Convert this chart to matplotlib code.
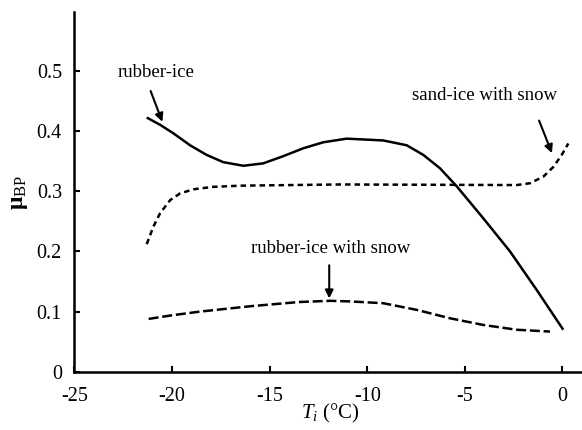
import matplotlib
matplotlib.use("Agg")
import matplotlib.pyplot as plt

plt.rcParams['font.family'] = ['Liberation Serif', 'DejaVu Serif']
plt.rcParams['mathtext.fontset'] = 'custom'
plt.rcParams['mathtext.rm'] = 'Liberation Serif'
plt.rcParams['mathtext.it'] = 'Liberation Serif:italic'
plt.rcParams['mathtext.bf'] = 'Liberation Serif:bold'

# rubber-ice (solid)
t_ri = [-21.3, -20.62, -19.94, -19.08, -18.23, -17.38, -16.35, -15.33, -14.3, -13.28, -12.25,
        -11.05, -9.18, -7.98, -7.13, -6.28, -5.42, -4.06, -2.69, -1.32, 0.04]
mu_ri = [0.422, 0.410, 0.396, 0.376, 0.360, 0.348, 0.342, 0.346, 0.358, 0.371, 0.381,
         0.387, 0.384, 0.376, 0.360, 0.338, 0.308, 0.255, 0.200, 0.136, 0.070]

# sand-ice with snow (short dashes)
t_si = [-21.3, -20.96, -20.62, -20.1, -19.6, -18.9, -17.9, -16.5, -11.4, -2.35, -1.67, -0.98,
        -0.47, -0.04, 0.30]
mu_si = [0.212, 0.241, 0.263, 0.285, 0.296, 0.303, 0.307, 0.309, 0.311, 0.310, 0.313, 0.324,
         0.340, 0.360, 0.379]

# rubber-ice with snow (long dashes)
t_rs = [-21.2, -20, -18.6, -16, -13.5, -11.9, -10.89, -9.18, -7.47, -5.76, -4.06, -2.35, -0.64]
mu_rs = [0.088, 0.094, 0.100, 0.109, 0.116, 0.118, 0.117, 0.114, 0.103, 0.089, 0.078, 0.070,
         0.067]

xticks = [-25, -20, -15, -10, -5, 0]
yticks = [0, 0.1, 0.2, 0.3, 0.4, 0.5]
yticklabels = ['0', '0.1', '0.2', '0.3', '0.4', '0.5']

fig = plt.figure(figsize=(5.82, 4.30), dpi=100)
ax = fig.add_axes([0.128, 0.135, 0.872, 0.837])

ax.plot(t_ri, mu_ri, color='black', lw=1.8, solid_capstyle='butt', solid_joinstyle='round')
ax.plot(t_si, mu_si, color='black', lw=1.8, linestyle=(0, (2.2, 1.6)))
ax.plot(t_rs, mu_rs, color='black', lw=1.8, linestyle=(0, (4, 1.5)))

ax.set_xlim(-25, 1.0)
ax.set_ylim(0, 0.597)
ax.set_xticks(xticks)
ax.set_xticklabels([str(v) for v in xticks])
ax.set_yticks(yticks)
ax.set_yticklabels(yticklabels)
ax.tick_params(direction='in', length=4, width=1.5, labelsize=14.5)
ax.tick_params(axis='x', pad=11)
ax.tick_params(axis='y', pad=9)

for s in ['top', 'right']:
    ax.spines[s].set_visible(False)
for s in ['left', 'bottom']:
    ax.spines[s].set_linewidth(1.8)

ax.set_xlabel(r'$T_i$ (°C)', fontsize=15)
ax.xaxis.set_label_coords(0.505, -0.083)
ax.set_ylabel(r'$\mathbf{\mu}_{\mathrm{BP}}$', fontsize=17)
ax.yaxis.set_label_coords(-0.088, 0.5)

arrow = dict(arrowstyle='-|>', color='black', lw=1.5, mutation_scale=12, shrinkA=0, shrinkB=0)
ax.text(-20.8, 0.497, 'rubber-ice', fontsize=13.5, ha='center', va='center')
ax.annotate('', xy=(-20.5, 0.415), xytext=(-21.1, 0.466), arrowprops=arrow)

ax.text(-4.0, 0.458, 'sand-ice with snow', fontsize=13.5, ha='center', va='center')
ax.annotate('', xy=(-0.54, 0.363), xytext=(-1.2, 0.417), arrowprops=arrow)

ax.text(-11.9, 0.205, 'rubber-ice with snow', fontsize=13.5, ha='center', va='center')
ax.annotate('', xy=(-11.95, 0.122), xytext=(-11.95, 0.177), arrowprops=arrow)

fig.savefig('out.png', dpi=100)
